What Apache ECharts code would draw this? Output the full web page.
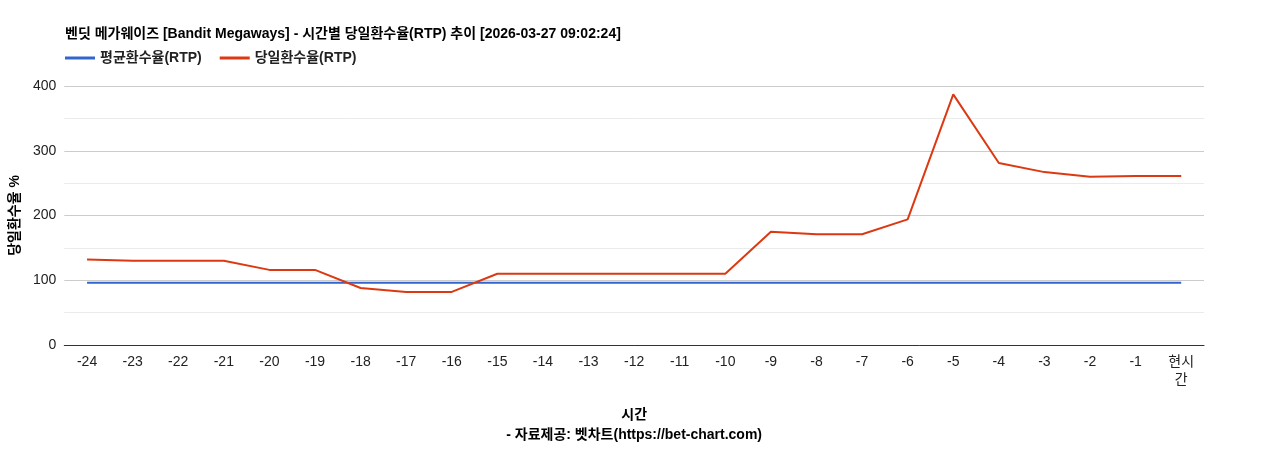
<!DOCTYPE html><html><head><meta charset="utf-8"><script src="https://cdn.jsdelivr.net/npm/echarts@6/dist/echarts.min.js"></script></head><body style="margin:0"><div id="c" style="width:1268px;height:450px"></div><script>
const categories=['-24','-23','-22','-21','-20','-19','-18','-17','-16','-15','-14','-13','-12','-11','-10','-9','-8','-7','-6','-5','-4','-3','-2','-1','현시\n간'];
const avgRtp=[96,96,96,96,96,96,96,96,96,96,96,96,96,96,96,96,96,96,96,96,96,96,96,96,96];
const dayRtp=[132,130,130,130,116,116,88,82,82,110,110,110,110,110,110,175,171,171,194,387,281,267,260,261,261];
const f='"Liberation Sans","Noto Sans CJK KR",sans-serif';
echarts.init(document.getElementById('c')).setOption({
animation:false,textStyle:{fontFamily:f},
title:{text:'벤딧 메가웨이즈 [Bandit Megaways] - 시간별 당일환수율(RTP) 추이 [2026-03-27 09:02:24]',left:60,top:22,textStyle:{fontSize:14,fontWeight:'bold',color:'#000',fontFamily:f}},
legend:{left:60,top:46,itemWidth:30,itemHeight:3,icon:'rect',itemGap:18,textStyle:{fontSize:14,fontWeight:'bold',color:'#222'},data:['평균환수율(RTP)','당일환수율(RTP)']},
grid:{left:63,right:64,top:86,bottom:87},
xAxis:{type:'category',data:categories,name:'시간\n- 자료제공: 벳차트(https://bet-chart.com)',nameLocation:'middle',nameGap:60,nameTextStyle:{fontSize:14,fontWeight:'bold',color:'#000',lineHeight:20},axisLine:{lineStyle:{color:'#333'}},axisTick:{show:false},axisLabel:{color:'#222',fontSize:14,interval:0,lineHeight:18}},
yAxis:{type:'value',min:0,max:400,interval:50,name:'당일환수율 %',nameLocation:'middle',nameGap:18,nameTextStyle:{fontSize:14,fontWeight:'bold',color:'#000'},axisLabel:{color:'#222',fontSize:14,formatter:v=>v%100===0?v:''},splitLine:{lineStyle:{color:['#ccc','#ebebeb']}}},
series:[{name:'평균환수율(RTP)',type:'line',data:avgRtp,symbol:'none',lineStyle:{color:'#3366cc',width:2},itemStyle:{color:'#3366cc'}},
{name:'당일환수율(RTP)',type:'line',data:dayRtp,symbol:'none',lineStyle:{color:'#dc3912',width:2},itemStyle:{color:'#dc3912'}}]});
</script></body></html>
